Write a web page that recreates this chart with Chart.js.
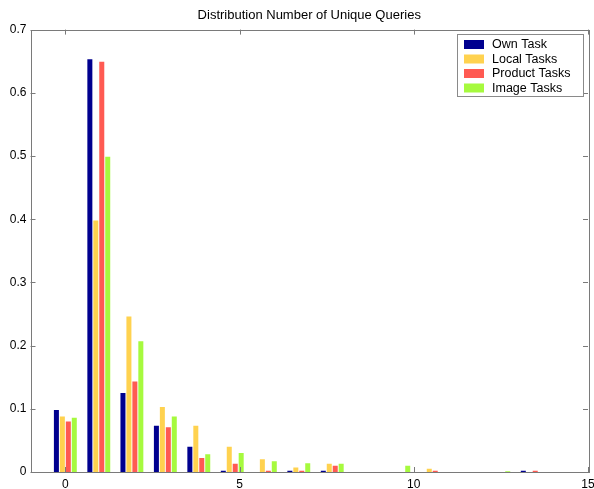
<!DOCTYPE html>
<html>
<head>
<meta charset="utf-8">
<script src="https://cdn.jsdelivr.net/npm/chart.js@4/dist/chart.umd.min.js"></script>
<style>
  body { margin: 0; background: #fff; }
  #wrap { width: 594px; height: 489px; }
</style>
</head>
<body>
<div id="wrap"><canvas id="histChart"></canvas></div>
<script>
// bin centres (number of unique queries)
const binCenters = [0, 0.96, 1.91, 2.87, 3.83, 4.79, 5.74, 6.70, 7.66, 8.61, 9.57, 10.53, 11.49, 12.44, 13.40];

const ownTask     = [0.098, 0.653, 0.125, 0.073, 0.040, 0.002, 0,     0.002, 0.002, 0, 0,     0,     0, 0,     0.002];
const localTasks  = [0.088, 0.398, 0.246, 0.103, 0.073, 0.040, 0.020, 0.007, 0.013, 0, 0,     0.005, 0, 0,     0];
const productTasks= [0.080, 0.649, 0.143, 0.071, 0.022, 0.013, 0.002, 0.002, 0.010, 0, 0,     0.002, 0, 0,     0.002];
const imageTasks  = [0.086, 0.499, 0.207, 0.088, 0.028, 0.030, 0.017, 0.014, 0.013, 0, 0.010, 0,     0, 0.001, 0];

const seriesNames = ['Own Task', 'Local Tasks', 'Product Tasks', 'Image Tasks'];
const seriesColors = ['#00008f', '#ffd24f', '#ff5a52', '#a6fa3e'];

const xTicks = [0, 5, 10, 15];
const yTicks = [0, 0.1, 0.2, 0.3, 0.4, 0.5, 0.6, 0.7];

const AXIS_COLOR = '#7a7a7a';
const FONT = '"Liberation Sans", Arial, Helvetica, sans-serif';

Chart.defaults.font.family = FONT;
Chart.defaults.font.size = 12;
Chart.defaults.color = '#000';

function toPoints(values) {
    return values.map((v, i) => ({ x: binCenters[i], y: v }));
}

// matlab style box, inward ticks and a boxed legend
const matlabFrame = {
    id: 'matlabFrame',
    afterDraw(chart) {
        const ctx = chart.ctx;
        const a = chart.chartArea;
        const xs = chart.scales.x, ys = chart.scales.y;
        const tick = 5;
        ctx.save();
        ctx.strokeStyle = AXIS_COLOR;
        ctx.lineWidth = 1;
        ctx.strokeRect(Math.round(a.left) + 0.5, Math.round(a.top) + 0.5,
            Math.round(a.right - a.left), Math.round(a.bottom - a.top));
        ctx.beginPath();
        xTicks.forEach(v => {
            const px = Math.round(xs.getPixelForValue(v)) + 0.5;
            ctx.moveTo(px, a.bottom); ctx.lineTo(px, a.bottom - tick);
            ctx.moveTo(px, a.top); ctx.lineTo(px, a.top + tick);
        });
        yTicks.forEach(v => {
            const py = Math.round(ys.getPixelForValue(v)) + 0.5;
            ctx.moveTo(a.left, py); ctx.lineTo(a.left + tick, py);
            ctx.moveTo(a.right, py); ctx.lineTo(a.right - tick, py);
        });
        ctx.stroke();

        // legend
        const lx = 457, ly = 34, lw = 126, lh = 62;
        ctx.fillStyle = '#fff';
        ctx.fillRect(lx, ly, lw, lh);
        ctx.strokeStyle = '#8a8a8a';
        ctx.strokeRect(lx + 0.5, ly + 0.5, lw, lh);
        ctx.font = '12.5px ' + FONT;
        ctx.textBaseline = 'middle';
        chart.data.datasets.forEach((ds, i) => {
            const cy = ly + 10.5 + i * 14.5;
            ctx.fillStyle = ds.backgroundColor;
            ctx.fillRect(lx + 7, cy - 4.5, 20, 9);
            ctx.fillStyle = '#000';
            ctx.fillText(ds.label, lx + 35, cy + 0.5);
        });
        ctx.restore();
    }
};

const ctx = document.getElementById('histChart').getContext('2d');
const histChart = new Chart(ctx, {
    type: 'bar',
    data: {
        datasets: [ownTask, localTasks, productTasks, imageTasks].map((vals, i) => ({
            label: seriesNames[i],
            data: toPoints(vals),
            backgroundColor: seriesColors[i],
            borderWidth: 0,
            categoryPercentage: 0.72,
            barPercentage: 0.84
        }))
    },
    options: {
        responsive: true,
        maintainAspectRatio: false,
        animation: false,
        layout: { padding: 0 },
        plugins: {
            legend: { display: false },
            tooltip: { enabled: false },
            title: {
                display: true,
                fullSize: false,
                text: 'Distribution Number of Unique Queries',
                font: { size: 13, weight: 'normal' },
                color: '#000',
                padding: { top: 7.5, bottom: 6.5 }
            }
        },
        scales: {
            x: {
                type: 'linear',
                offset: false,
                min: -1,
                max: 15,
                grid: { display: false, drawTicks: false },
                border: { display: false },
                ticks: { padding: 5, maxRotation: 0 },
                afterBuildTicks: s => { s.ticks = xTicks.map(v => ({ value: v })); },
                afterFit: s => { s.height = 17; s.paddingLeft = 0; s.paddingRight = 6; }
            },
            y: {
                min: 0,
                max: 0.7,
                grid: { display: false, drawTicks: false },
                border: { display: false },
                ticks: { padding: 4 },
                afterBuildTicks: s => { s.ticks = yTicks.map(v => ({ value: v })); },
                afterFit: s => { s.width = 30.5; }
            }
        }
    },
    plugins: [matlabFrame]
});
</script>
</body>
</html>
